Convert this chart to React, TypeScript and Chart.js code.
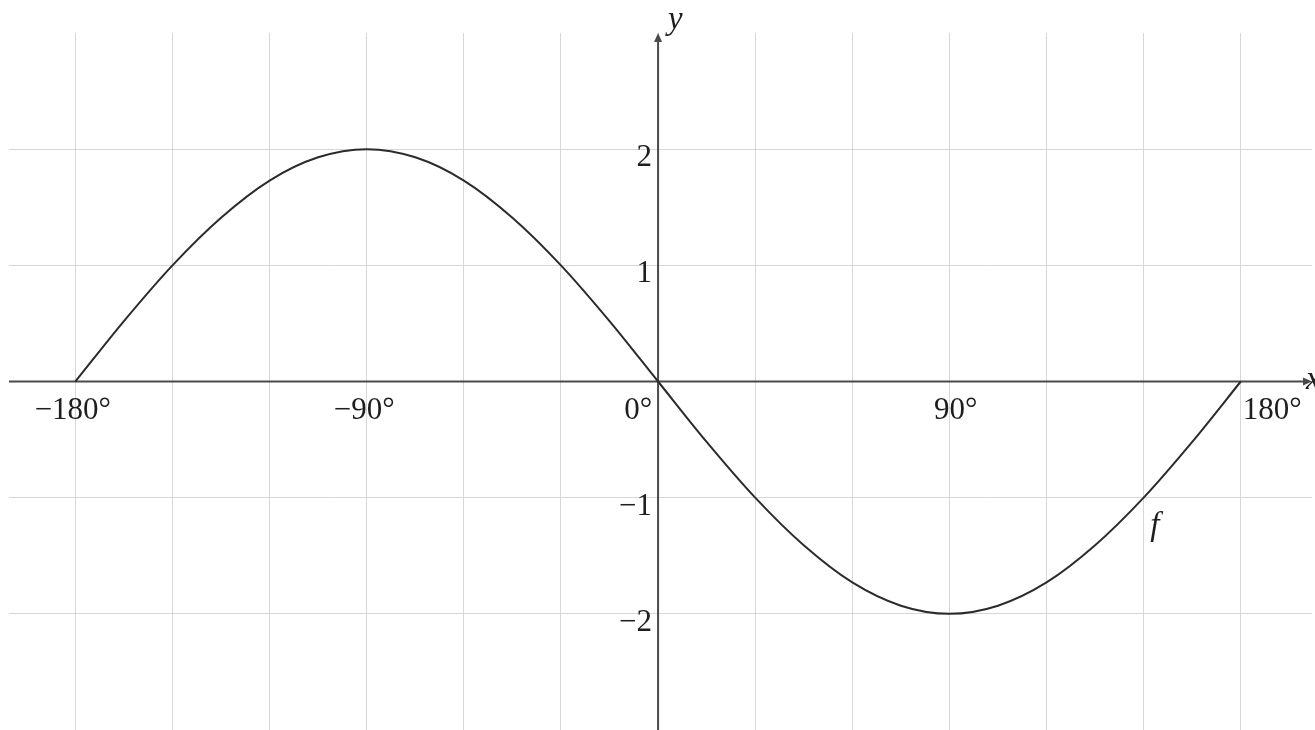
import React, { useEffect, useRef } from "react";
import { Chart, registerables } from "chart.js";

Chart.register(...registerables);

// Angles (degrees) and values of f
const angles = [-180, -165, -150, -135, -120, -105, -90, -75, -60, -45, -30, -15, 0, 15, 30, 45, 60, 75, 90, 105, 120, 135, 150, 165, 180];
const fValues = [0, 0.52, 1.0, 1.41, 1.73, 1.93, 2.0, 1.93, 1.73, 1.41, 1.0, 0.52, 0, -0.52, -1.0, -1.41, -1.73, -1.93, -2.0, -1.93, -1.73, -1.41, -1.0, -0.52, 0];

// Grid lines
const xGridTicks = [-180, -150, -120, -90, -60, -30, 0, 30, 60, 90, 120, 150, 180];
const yGridTicks = [-2, -1, 0, 1, 2];

// Tick labels
const xLabelTicks = [-180, -90, 0, 90, 180];
const xLabelSigns = ["−", "−", "", "", ""];
const xLabelNums = ["180", "90", "0", "90", "180"];
const yLabelTicks = [2, 1, -1, -2];
const yLabels = ["2", "1", "−1", "−2"];

const FONT = '31px "Liberation Serif", "Times New Roman", serif';
const IFONT = 'italic 33px "Liberation Serif", "Times New Roman", serif';

const axesPlugin = {
  id: "mathAxes",
  beforeDatasetsDraw(chart: any) {
    const { ctx, chartArea, scales } = chart;
    const x0 = scales.x.getPixelForValue(0);
    const y0 = scales.y.getPixelForValue(0);
    ctx.save();
    ctx.strokeStyle = "#4a4a4a";
    ctx.fillStyle = "#4a4a4a";
    ctx.lineWidth = 2;
    // x axis
    ctx.beginPath();
    ctx.moveTo(chartArea.left, y0);
    ctx.lineTo(chartArea.right - 4, y0);
    ctx.stroke();
    ctx.beginPath();
    ctx.moveTo(chartArea.right, y0);
    ctx.lineTo(chartArea.right - 9, y0 - 4);
    ctx.lineTo(chartArea.right - 9, y0 + 4);
    ctx.closePath();
    ctx.fill();
    // y axis
    ctx.beginPath();
    ctx.moveTo(x0, chart.height);
    ctx.lineTo(x0, chartArea.top + 4);
    ctx.stroke();
    ctx.beginPath();
    ctx.moveTo(x0, chartArea.top);
    ctx.lineTo(x0 - 4, chartArea.top + 9);
    ctx.lineTo(x0 + 4, chartArea.top + 9);
    ctx.closePath();
    ctx.fill();
    ctx.restore();
  },
  afterDraw(chart: any) {
    const { ctx, chartArea, scales } = chart;
    const x0 = scales.x.getPixelForValue(0);
    const y0 = scales.y.getPixelForValue(0);
    ctx.save();
    ctx.fillStyle = "#1e1e1e";
    ctx.font = FONT;
    ctx.textBaseline = "alphabetic";
    ctx.textAlign = "left";
    const base = y0 + 37;
    xLabelTicks.forEach((v, i) => {
      const px = scales.x.getPixelForValue(v);
      const sign = xLabelSigns[i];
      const num = xLabelNums[i];
      const full = sign + num + "°";
      if (v === 0) {
        const w = ctx.measureText(full).width;
        ctx.fillText(full, px - 6 - w, base);
      } else if (v === 180) {
        ctx.fillText(full, px + 2, base);
      } else {
        const sw = ctx.measureText(sign).width;
        const nw = ctx.measureText(num).width;
        ctx.fillText(full, px - nw / 2 - sw, base);
      }
    });
    ctx.textAlign = "right";
    yLabelTicks.forEach((v, i) => {
      const py = scales.y.getPixelForValue(v);
      ctx.fillText(yLabels[i], x0 - 6, py + 17);
    });
    // axis names and function name
    ctx.font = IFONT;
    ctx.textAlign = "left";
    ctx.fillText("y", x0 + 10, chartArea.top - 4);
    ctx.fillText("x", chartArea.right - 6, y0 + 7);
    ctx.fillText("f", scales.x.getPixelForValue(152), scales.y.getPixelForValue(-1.32));
    ctx.restore();
  },
};

export default function App() {
  const ref = useRef<HTMLCanvasElement | null>(null);
  useEffect(() => {
    document.body.style.margin = "0";
    if (!ref.current) return;
    const chart = new Chart(ref.current, {
      type: "line",
      data: {
        datasets: [
          {
            data: angles.map((a, i) => ({ x: a, y: fValues[i] })),
            borderColor: "#2b2b2b",
            borderWidth: 2,
            pointRadius: 0,
            fill: false,
            cubicInterpolationMode: "monotone",
          },
        ],
      },
      options: {
        responsive: false,
        animation: false,
        devicePixelRatio: 1,
        layout: { padding: { top: 33, left: 9, right: 3, bottom: 0 } },
        plugins: { legend: { display: false }, tooltip: { enabled: false } },
        scales: {
          x: {
            type: "linear",
            min: -200.5,
            max: 202,
            afterBuildTicks: (s: any) => {
              s.ticks = xGridTicks.map((v) => ({ value: v }));
            },
            ticks: { display: false, padding: 0 },
            grid: { color: "#d6d6d6", lineWidth: 1, drawTicks: false },
            border: { display: false },
          },
          y: {
            type: "linear",
            min: -3,
            max: 3,
            afterBuildTicks: (s: any) => {
              s.ticks = yGridTicks.map((v) => ({ value: v }));
            },
            ticks: { display: false, padding: 0 },
            grid: { color: "#d6d6d6", lineWidth: 1, drawTicks: false },
            border: { display: false },
          },
        },
      },
      plugins: [axesPlugin],
    } as any);
    return () => chart.destroy();
  }, []);
  return (
    <div style={{ width: 1315, height: 730, background: "#fff" }}>
      <canvas ref={ref} width={1315} height={730} style={{ display: "block" }} />
    </div>
  );
}
